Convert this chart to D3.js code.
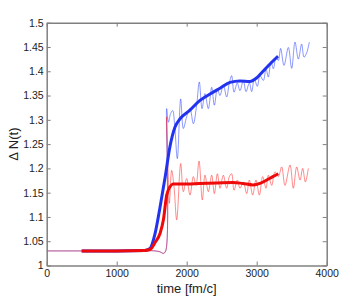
<!DOCTYPE html>
<html>
<head>
<meta charset="utf-8">
<script src="https://cdn.jsdelivr.net/npm/d3@7"></script>
<style>
  body { margin: 0; background: #fff; }
  #chart { width: 361px; height: 299px; }
  .axis text { font-family: "Liberation Sans", Arial, sans-serif; font-size: 10.5px; fill: #222; }
  .axis path, .axis line { stroke: #808080; }
</style>
</head>
<body>
<div id="chart"></div>
<script>
// thick (smoothed) curves
const blueSmoothT = [500, 1000, 1400, 1476, 1547, 1619, 1690, 1761, 1833, 1904, 2047, 2190, 2333, 2476, 2619, 2761, 2904, 3004, 3090, 3190, 3304];
const blueSmoothV = [1.03, 1.03, 1.031, 1.035, 1.065, 1.12, 1.18, 1.245, 1.285, 1.302, 1.32, 1.34, 1.353, 1.365, 1.377, 1.38, 1.379, 1.387, 1.4, 1.415, 1.431];

const redSmoothT = [500, 1000, 1400, 1476, 1550, 1619, 1666, 1714, 1761, 1804, 1947, 2190, 2429, 2661, 2800, 2947, 3047, 3143, 3230, 3309];
const redSmoothV = [1.03, 1.03, 1.031, 1.033, 1.048, 1.066, 1.093, 1.145, 1.162, 1.168, 1.168, 1.169, 1.17, 1.171, 1.169, 1.166, 1.169, 1.176, 1.183, 1.189];

// thin (raw) curves
const blueRawT = [0, 800, 1550, 1620, 1666, 1700, 1714, 1738, 1771, 1800, 1828, 1866, 1914, 1952, 1999, 2047, 2095, 2142, 2180, 2219, 2261, 2309, 2357, 2395, 2438, 2476, 2523, 2571, 2609, 2642, 2676, 2723, 2761, 2809, 2847, 2895, 2928, 2966, 3009, 3047, 3095, 3133, 3166, 3204, 3238, 3276, 3309, 3342, 3390, 3452, 3500, 3547, 3595, 3642, 3676, 3714, 3752];
const blueRawV = [1.03, 1.03, 1.03, 1.028, 1.025, 1.03, 1.323, 1.295, 1.313, 1.319, 1.289, 1.22, 1.343, 1.282, 1.306, 1.323, 1.292, 1.33, 1.378, 1.323, 1.354, 1.323, 1.367, 1.33, 1.364, 1.35, 1.372, 1.347, 1.376, 1.391, 1.357, 1.376, 1.36, 1.381, 1.358, 1.376, 1.358, 1.384, 1.369, 1.391, 1.381, 1.405, 1.388, 1.42, 1.405, 1.429, 1.422, 1.447, 1.412, 1.449, 1.406, 1.46, 1.425, 1.456, 1.429, 1.438, 1.46];

const redRawT = [0, 800, 1550, 1620, 1666, 1700, 1714, 1733, 1752, 1785, 1819, 1857, 1914, 1952, 1999, 2047, 2095, 2133, 2176, 2223, 2261, 2309, 2357, 2395, 2438, 2476, 2523, 2571, 2609, 2642, 2676, 2723, 2761, 2809, 2857, 2895, 2942, 2990, 3038, 3085, 3133, 3166, 3214, 3261, 3309, 3357, 3404, 3476, 3523, 3571, 3619, 3657, 3695, 3738];
const redRawV = [1.03, 1.03, 1.03, 1.028, 1.025, 1.03, 1.306, 1.2, 1.128, 1.196, 1.162, 1.094, 1.21, 1.152, 1.179, 1.145, 1.183, 1.165, 1.215, 1.135, 1.186, 1.152, 1.186, 1.148, 1.189, 1.159, 1.186, 1.159, 1.183, 1.189, 1.155, 1.176, 1.159, 1.172, 1.148, 1.176, 1.145, 1.176, 1.145, 1.183, 1.159, 1.186, 1.165, 1.193, 1.183, 1.203, 1.165, 1.207, 1.159, 1.203, 1.176, 1.2, 1.172, 1.2];

const xTicks = [0, 1000, 2000, 3000, 4000];
const yTicks = [1, 1.05, 1.1, 1.15, 1.2, 1.25, 1.3, 1.35, 1.4, 1.45, 1.5];

const width = 361, height = 299;
const margin = { top: 22.7, right: 34.3, bottom: 33.5, left: 46.7 };
const w = width - margin.left - margin.right;
const h = height - margin.top - margin.bottom;

const svg = d3.select("#chart").append("svg")
    .attr("width", width)
    .attr("height", height);

const g = svg.append("g")
    .attr("transform", `translate(${margin.left},${margin.top})`);

const x = d3.scaleLinear().domain([0, 4000]).range([0, w]);
const y = d3.scaleLinear().domain([1, 1.5]).range([h, 0]);

const zip = (ts, vs) => ts.map((t, i) => [t, vs[i]]);

const line = d3.line()
    .x(d => x(d[0]))
    .y(d => y(d[1]))
    .curve(d3.curveCatmullRom.alpha(0.5));

const smoothLine = d3.line()
    .x(d => x(d[0]))
    .y(d => y(d[1]))
    .curve(d3.curveMonotoneX);

g.append("path")
    .datum(zip(blueRawT, blueRawV))
    .attr("fill", "none")
    .attr("stroke", "#1a33ff")
    .attr("stroke-opacity", 0.5)
    .attr("stroke-width", 1)
    .attr("d", line);

g.append("path")
    .datum(zip(redRawT, redRawV))
    .attr("fill", "none")
    .attr("stroke", "#ff1a1a")
    .attr("stroke-opacity", 0.5)
    .attr("stroke-width", 1)
    .attr("d", line);

g.append("path")
    .datum(zip(blueSmoothT, blueSmoothV))
    .attr("fill", "none")
    .attr("stroke", "#2233ee")
    .attr("stroke-width", 3)
    .attr("d", smoothLine);

g.append("path")
    .datum(zip(redSmoothT, redSmoothV))
    .attr("fill", "none")
    .attr("stroke", "#ee0a0a")
    .attr("stroke-width", 3)
    .attr("d", smoothLine);

// box axes, matlab style (ticks inside)
g.append("g")
    .attr("class", "axis")
    .attr("transform", `translate(0,${h})`)
    .call(d3.axisBottom(x).tickValues(xTicks).tickSizeInner(-4).tickSizeOuter(0).tickPadding(4).tickFormat(d3.format("d")));

g.append("g")
    .attr("class", "axis")
    .call(d3.axisTop(x).tickValues(xTicks).tickSizeInner(-4).tickSizeOuter(0).tickFormat(""));

g.append("g")
    .attr("class", "axis")
    .call(d3.axisLeft(y).tickValues(yTicks).tickSizeInner(-4).tickSizeOuter(0).tickPadding(3).tickFormat(d => d3.format("")(+d.toFixed(2))));

g.append("g")
    .attr("class", "axis")
    .attr("transform", `translate(${w},0)`)
    .call(d3.axisRight(y).tickValues(yTicks).tickSizeInner(-4).tickSizeOuter(0).tickFormat(""));

g.selectAll(".axis path").attr("stroke-width", 1.5);

g.append("text")
    .attr("text-anchor", "middle")
    .attr("x", w / 2)
    .attr("y", h + 28)
    .text("time [fm/c]")
    .style("fill", "#222")
    .style("font-size", "13px")
    .style("font-family", "Liberation Sans, Arial, sans-serif");

g.append("text")
    .attr("text-anchor", "middle")
    .attr("transform", "rotate(-90)")
    .attr("x", -h / 2)
    .attr("y", -margin.left + 18)
    .text("Δ N(t)")
    .style("fill", "#222")
    .style("font-size", "13px")
    .style("font-family", "Liberation Sans, Arial, sans-serif");
</script>
</body>
</html>
